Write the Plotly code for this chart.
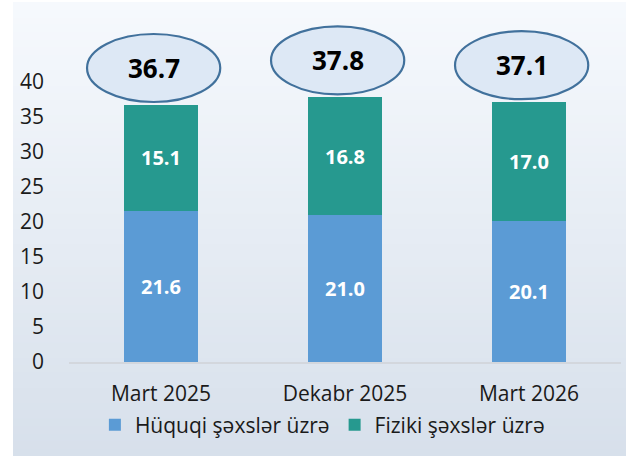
import plotly.graph_objects as go

# Data
periods = ["Mart 2025", "Dekabr 2025", "Mart 2026"]
huquqi = [21.6, 21.0, 20.1]   # Hüquqi şəxslər üzrə
fiziki = [15.1, 16.8, 17.0]   # Fiziki şəxslər üzrə
totals = [36.7, 37.8, 37.1]
y_ticks = [0, 5, 10, 15, 20, 25, 30, 35, 40]

W, H = 626, 456
FONT = "Open Sans"
BLUE = "#5b9bd5"
TEAL = "#26998f"

# pixel layout helpers
plot_left, plot_right = 69, 621
plot_top, plot_bottom = 10, 362
px_per_unit = 7.0
y_max = (plot_bottom - plot_top) / px_per_unit

fig = go.Figure()
fig.add_trace(go.Bar(
    x=periods, y=huquqi, name="Hüquqi şəxslər üzrə",
    marker=dict(color=BLUE, line=dict(width=0)),
    text=[f"{v:.1f}" for v in huquqi], textposition="inside",
    insidetextanchor="middle",
    textfont=dict(family=FONT, size=20, color="white", weight="bold"),
    width=0.4,
))
fig.add_trace(go.Bar(
    x=periods, y=fiziki, name="Fiziki şəxslər üzrə",
    marker=dict(color=TEAL, line=dict(width=0)),
    text=[f"{v:.1f}" for v in fiziki], textposition="inside",
    insidetextanchor="middle",
    textfont=dict(family=FONT, size=20, color="white", weight="bold"),
    width=0.4,
))

shapes = []
# vertical gradient panel behind the chart
x0p, y0p = 13 / W, 1 - 2 / H
n_bands = 60
top_rgb = (246, 249, 253)
bot_rgb = (215, 224, 235)
for i in range(n_bands):
    t = i / (n_bands - 1)
    c = tuple(round(top_rgb[k] + (bot_rgb[k] - top_rgb[k]) * t) for k in range(3))
    ya = y0p - (y0p) * i / n_bands
    yb = y0p - (y0p) * (i + 1) / n_bands
    shapes.append(dict(
        type="rect", xref="paper", yref="paper", x0=x0p, x1=1.0,
        y0=max(yb - 0.002, 0), y1=ya, layer="below",
        fillcolor=f"rgb{c}", line=dict(width=0),
    ))

# ellipses with totals above each bar
annotations = []
ell_dx = -0.04
ell_hw = 0.362
ell_hh = 4.86
ell_gap = 5.3
for i, tot in enumerate(totals):
    cy = tot + ell_gap
    cx = i + ell_dx
    shapes.append(dict(
        type="circle", xref="x", yref="y",
        x0=cx - ell_hw, x1=cx + ell_hw, y0=cy - ell_hh, y1=cy + ell_hh,
        fillcolor="#dde8f5", line=dict(color="#41719c", width=2.2),
        layer="above",
    ))
    annotations.append(dict(
        x=cx, y=cy, xref="x", yref="y", text=f"<b>{tot:.1f}</b>",
        showarrow=False, font=dict(family=FONT, size=26, color="#000000"),
        xanchor="center", yanchor="middle",
    ))

fig.update_layout(
    width=W, height=H,
    margin=dict(l=0, r=0, t=0, b=0, autoexpand=False),
    paper_bgcolor="white",
    plot_bgcolor="rgba(0,0,0,0)",
    barmode="stack",
    font=dict(family=FONT, size=21, color="#1a1a1a"),
    shapes=shapes,
    annotations=annotations,
    showlegend=True,
    legend=dict(
        orientation="h", x=0.515, xanchor="center",
        y=(H - 425) / H, yanchor="middle",
        font=dict(family=FONT, size=21, color="#1a1a1a"),
        bgcolor="rgba(0,0,0,0)", traceorder="normal",
        itemwidth=30,
    ),
    xaxis=dict(
        domain=[plot_left / W, plot_right / W],
        range=[-0.5, 2.5],
        showgrid=False, showline=True, linecolor="#d3d7dd", linewidth=1.5,
        ticks="", tickfont=dict(family=FONT, size=21, color="#1a1a1a"),
        ticklabelstandoff=12,
    ),
    yaxis=dict(
        domain=[1 - plot_bottom / H, 1 - plot_top / H],
        range=[0, y_max],
        tickvals=y_ticks, ticktext=[str(v) for v in y_ticks],
        showgrid=False, zeroline=False, showline=False, ticks="",
        tickfont=dict(family=FONT, size=21, color="#1a1a1a"),
        ticklabelstandoff=24,
    ),
)

fig.write_html("out.html")
